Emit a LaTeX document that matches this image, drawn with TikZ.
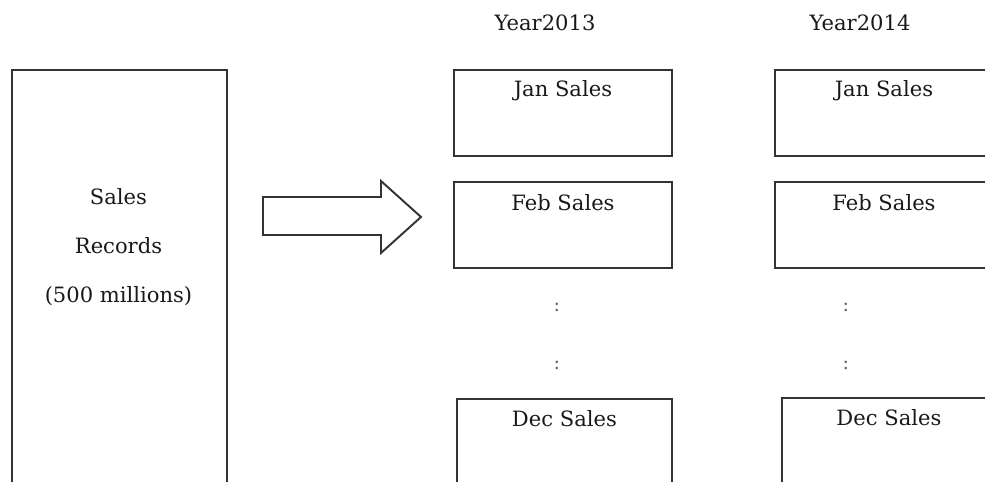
\documentclass[tikz,border=0pt]{standalone}
\usepackage{fontspec}
\setmainfont{DejaVu Serif}
\begin{document}
\begin{tikzpicture}[x=0.02cm, y=-0.02cm,
    box/.style={draw=black!80, line width=1.1pt, anchor=north west, inner sep=0pt,
      minimum width=4.36cm, minimum height=1.72cm},
    txt/.style={text=black!90, font=\fontsize{12}{14}\selectfont, inner sep=0pt},
    dots/.style={text=black!60, font=\fontsize{11}{13}\selectfont, inner sep=0pt}]
    \useasboundingbox (0,0) rectangle (985,482);
    \clip (0,0) rectangle (985,482);

    % source table
    \node[box, minimum width=4.3cm, minimum height=9.4cm] (records) at (11,69) {};
    \node[txt, align=center, font=\fontsize{12}{27.9}\selectfont] (recordstext) at (118.5,247)
      {Sales\\Records\\(500 millions)};

    % block arrow
    \draw[draw=black!80, line width=1.1pt, line join=miter]
      (263,197) -- (381,197) -- (381,181) -- (421,217) -- (381,253) -- (381,235) -- (263,235) -- cycle;

    % year headings
    \node[txt] (y13) at (545,23) {Year2013};
    \node[txt] (y14) at (860,23) {Year2014};

    % 2013 partitions
    \node[box] (jan13) at (453,69) {};
    \node[box] (feb13) at (453,181) {};
    \node[box, minimum width=4.3cm, minimum height=2.4cm] (dec13) at (456,398) {};
    \node[txt] (jan13t) at ([yshift=-0.44cm]jan13.north) {Jan Sales};
    \node[txt] (feb13t) at ([yshift=-0.44cm]feb13.north) {Feb Sales};
    \node[txt] (dec13t) at ([yshift=-0.42cm]dec13.north) {Dec Sales};
    \node[dots] (d13a) at (557,307) {:};
    \node[dots] (d13b) at (557,365) {:};

    % 2014 partitions
    \node[box] (jan14) at (774,69) {};
    \node[box] (feb14) at (774,181) {};
    \node[box, minimum width=4.28cm, minimum height=2.4cm] (dec14) at (781,397) {};
    \node[txt] (jan14t) at ([yshift=-0.44cm]jan14.north) {Jan Sales};
    \node[txt] (feb14t) at ([yshift=-0.44cm]feb14.north) {Feb Sales};
    \node[txt] (dec14t) at ([yshift=-0.42cm]dec14.north) {Dec Sales};
    \node[dots] (d14a) at (846,307) {:};
    \node[dots] (d14b) at (846,365) {:};
  \end{tikzpicture}
\end{document}
